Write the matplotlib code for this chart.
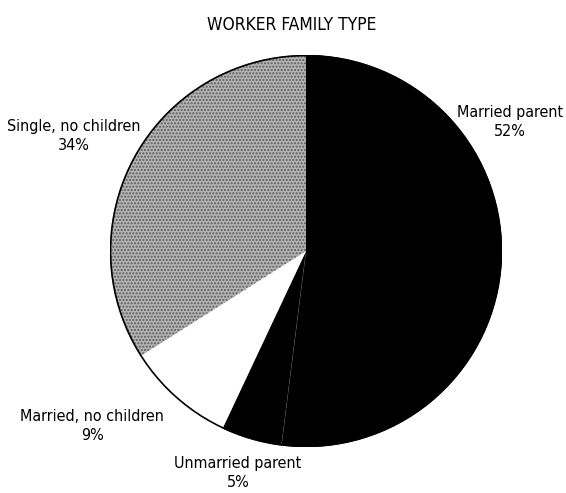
import matplotlib
matplotlib.use("Agg")
import matplotlib.pyplot as plt
from matplotlib.patches import Circle

plt.rcParams['font.family'] = ['DejaVu Sans']
plt.rcParams['font.stretch'] = 'condensed'

# worker family type shares (%)
labels = ['Married parent', 'Unmarried parent', 'Married, no children', 'Single, no children']
shares = [52, 5, 9, 34]
colors = ['black', 'black', 'white', '#b4b4b4']

W, H = 566, 493
fig = plt.figure(figsize=(W / 100, H / 100), dpi=100)

# pie center and radius in pixels
cx, cy, r = 306, 251, 196
ax = fig.add_axes([(cx - r) / W, (H - cy - r) / H, 2 * r / W, 2 * r / H])

wedges, _ = ax.pie(shares, colors=colors, startangle=90, counterclock=False,
                   radius=1, wedgeprops=dict(linewidth=0))
ax.set_xlim(-1, 1)
ax.set_ylim(-1, 1)
ax.set_aspect('equal')
ax.axis('off')

# stipple on the single slice
wedges[3].set_edgecolor('#5a5a5a')
wedges[3].set_hatch('.....')
wedges[3].set_linewidth(0)
# faint divider between the two black slices
wedges[1].set_edgecolor('#555555')
wedges[1].set_linewidth(0.6)
wedges[1].set_linestyle(':')

ax.add_patch(Circle((0, 0), 0.997, fill=False, edgecolor='black', linewidth=1.2))

fig.text(292 / W, 1 - 25 / H, 'WORKER FAMILY TYPE', ha='center', va='center', fontsize=12.5)

# label text, centre position in pixels
lab_pos = [(510, 122), (238, 473), (92, 426), (74, 136)]
for name, val, (x, y) in zip(labels, shares, lab_pos):
    fig.text(x / W, 1 - y / H, f'{name}\n{val}%', ha='center', va='center',
             fontsize=11.5, linespacing=1.3)

fig.savefig('out.png', dpi=100)
